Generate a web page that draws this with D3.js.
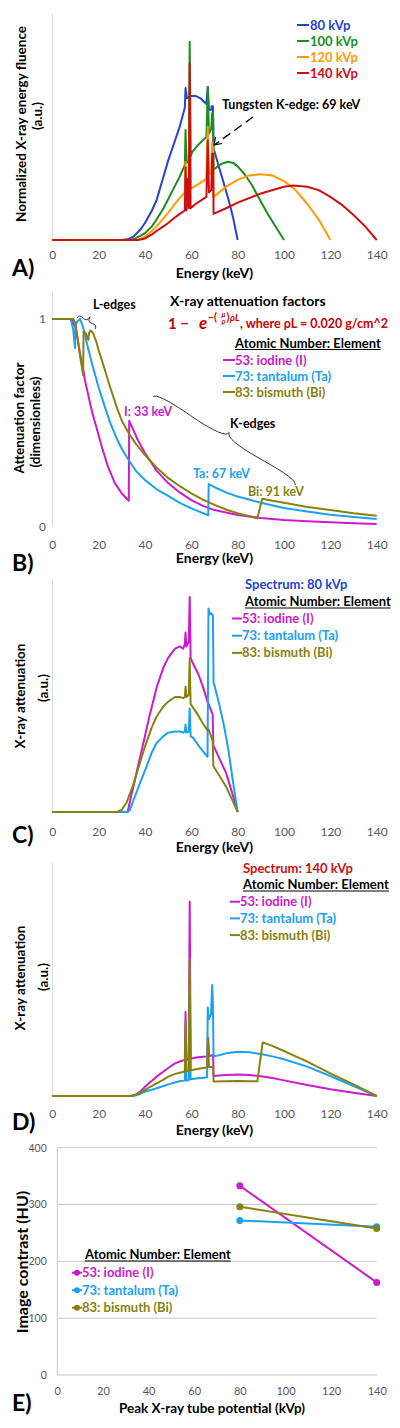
<!DOCTYPE html>
<html><head><meta charset="utf-8">
<script src="https://cdn.jsdelivr.net/npm/d3@7"></script>
<style>body{margin:0;background:#fff}svg{display:block}text{font-family:Lato,'Open Sans',sans-serif}</style>
</head><body><svg id="c" width="400" height="1428"></svg>
<script>
// ---------- DATA ----------
const energyTicks = [0, 20, 40, 60, 80, 100, 120, 140];
const attTicks = [0, 1];
const hvTicks = [0, 100, 200, 300, 400];

// Panel A: normalized X-ray energy fluence [keV, a.u.]
const spec80 = [[0,0],[30,0],[33,0.005],[35,0.015],[38,0.045],[40,0.075],[43,0.13],[45,0.176],[48,0.28],[50,0.35],[53,0.44],[55,0.5],[57.2,0.585],[57.5,0.67],[58.1,0.625],[59,0.63],[60,0.635],[62,0.635],[64,0.625],[66.5,0.6],[67.1,0.675],[67.6,0.575],[68.6,0.575],[68.8,0.59],[69.3,0.59],[69.6,0.4],[70,0.39],[72,0.32],[74,0.25],[76,0.18],[78,0.1],[80,0]];
const spec100 = [[0,0],[34,0],[36,0.008],[38,0.018],[40,0.03],[43,0.06],[45,0.09],[48,0.14],[50,0.18],[53,0.24],[55,0.28],[57.2,0.33],[57.5,0.485],[57.9,0.34],[58.9,0.35],[59.3,0.875],[59.7,0.37],[60.5,0.39],[63,0.42],[66.5,0.455],[67.1,0.675],[67.6,0.47],[68.6,0.49],[69.0,0.56],[69.4,0.56],[69.6,0.31],[72,0.33],[74,0.34],[76,0.345],[78,0.34],[80,0.325],[83,0.29],[86,0.245],[90,0.17],[93,0.115],[96,0.065],[100,0]];
const spec120 = [[0,0],[36,0],[38,0.005],[40,0.015],[43,0.04],[45,0.06],[48,0.095],[50,0.12],[53,0.16],[55,0.185],[57.2,0.21],[57.5,0.345],[57.9,0.215],[58.9,0.22],[59.3,0.6],[59.7,0.225],[62,0.24],[65,0.26],[66.5,0.27],[67.1,0.5],[67.6,0.29],[68.6,0.3],[69.0,0.43],[69.4,0.43],[69.6,0.19],[72,0.21],[75,0.235],[80,0.265],[85,0.285],[90,0.29],[95,0.285],[100,0.26],[105,0.22],[110,0.16],[115,0.09],[120,0]];
const spec140 = [[0,0],[37,0],[40,0.007],[43,0.025],[45,0.04],[48,0.06],[50,0.075],[53,0.1],[55,0.115],[57.2,0.13],[57.5,0.32],[57.9,0.13],[58.5,0.27],[58.9,0.14],[59.3,0.78],[59.7,0.14],[60.2,0.145],[62,0.16],[65,0.18],[66.5,0.19],[67.1,0.44],[67.6,0.21],[68.6,0.22],[69.0,0.38],[69.4,0.38],[69.6,0.115],[75,0.14],[80,0.165],[90,0.205],[100,0.235],[104,0.24],[110,0.235],[115,0.22],[120,0.19],[125,0.155],[130,0.11],[135,0.06],[140,0]];
const kvpLabels = ["80 kVp", "100 kVp", "120 kVp", "140 kVp"];
const kvpColors = ["#2443d0", "#1e8c1e", "#ff9a00", "#cc1010"];

// Panel B: attenuation factor 1 - exp(-(mu/rho) rho L)
const attI = [[0,1],[7.5,1],[8.5,0.99],[10,0.96],[11,0.9],[12,0.83],[13,0.78],[14,0.71],[15,0.66],[16,0.61],[17,0.56],[18,0.52],[20,0.44],[21.5,0.38],[24,0.29],[27,0.21],[30,0.16],[33,0.125],[33.2,0.51],[35,0.465],[37,0.415],[40,0.355],[45,0.27],[50,0.21],[55,0.165],[60,0.128],[65,0.1],[70,0.08],[80,0.056],[90,0.042],[100,0.032],[110,0.026],[120,0.021],[130,0.017],[140,0.013]];
const attTa = [[0,1],[8,1],[9,0.95],[9.8,0.86],[10.0,0.97],[11,0.99],[12,1.0],[13,0.97],[14,0.93],[15,0.88],[17,0.79],[20,0.67],[22,0.6],[25,0.5],[28,0.42],[30,0.375],[33,0.32],[36,0.27],[40,0.225],[45,0.18],[50,0.148],[55,0.115],[60,0.088],[64,0.07],[67.3,0.055],[67.5,0.205],[70,0.19],[75,0.165],[80,0.145],[90,0.115],[100,0.09],[110,0.073],[120,0.058],[130,0.047],[140,0.037]];
const attBi = [[0,1],[9,1],[10,0.98],[11,0.9],[12,0.82],[13.3,0.73],[13.5,0.94],[14.5,0.93],[15.6,0.9],[15.8,0.93],[16.5,0.945],[17.5,0.935],[19,0.89],[20,0.85],[22,0.78],[25,0.67],[28,0.57],[30,0.51],[33,0.45],[36,0.4],[40,0.345],[45,0.285],[50,0.235],[55,0.195],[60,0.16],[65,0.13],[70,0.105],[75,0.083],[80,0.065],[85,0.05],[88.5,0.04],[90.6,0.135],[95,0.125],[100,0.115],[110,0.095],[120,0.08],[130,0.065],[140,0.053]];
const elementLabels = ["53: iodine (I)", "73: tantalum (Ta)", "83: bismuth (Bi)"];
const elementColors = ["#cc1acc", "#1ba1f2", "#878210"];

// Panel C: X-ray attenuation, 80 kVp spectrum
const c80I = [[0,0],[32.5,0],[33.2,0.03],[34,0.07],[35,0.11],[37,0.2],[40,0.33],[42,0.42],[45,0.54],[48,0.63],[50,0.67],[53,0.71],[55,0.72],[56.5,0.71],[57.2,0.73],[57.5,0.78],[57.9,0.72],[58.9,0.74],[59.3,0.935],[59.7,0.67],[60.5,0.65],[63,0.6],[65,0.545],[67,0.48],[67.4,0.47],[68.6,0.44],[69.2,0.425],[69.5,0.29],[72,0.235],[75,0.17],[78,0.07],[80,0]];
const c80Ta = [[0,0],[32.5,0],[33.5,0.01],[35,0.05],[38,0.13],[40,0.18],[43,0.26],[45,0.3],[48,0.33],[50,0.345],[53,0.35],[55,0.35],[56.5,0.345],[57.2,0.35],[57.5,0.38],[57.9,0.345],[58.9,0.35],[59.3,0.45],[59.7,0.33],[61,0.32],[63,0.29],[65,0.265],[67,0.24],[67.4,0.885],[68,0.86],[68.5,0.865],[69.3,0.855],[69.6,0.56],[70,0.55],[72,0.47],[74,0.38],[76,0.27],[78,0.13],[80,0]];
const c80Bi = [[0,0],[28,0],[30,0.01],[32,0.04],[35,0.12],[38,0.22],[40,0.285],[43,0.37],[45,0.415],[48,0.46],[50,0.48],[53,0.5],[55,0.5],[56.5,0.495],[57.2,0.5],[57.5,0.545],[57.9,0.5],[58.9,0.51],[59.3,0.67],[59.7,0.47],[61,0.45],[63,0.42],[65,0.385],[67,0.355],[67.4,0.36],[69.2,0.31],[69.5,0.2],[72,0.16],[75,0.11],[78,0.045],[80,0]];

// Panel D: X-ray attenuation, 140 kVp spectrum
const d140I = [[0,0],[34,0],[36,0.006],[38,0.02],[40,0.04],[43,0.065],[45,0.083],[48,0.105],[50,0.12],[53,0.14],[55,0.148],[57.2,0.155],[57.5,0.36],[57.9,0.155],[58.9,0.16],[59.3,0.834],[59.7,0.16],[62,0.165],[65,0.168],[67,0.17],[67.3,0.25],[67.7,0.17],[69,0.175],[69.4,0.175],[69.6,0.086],[72,0.088],[75,0.09],[80,0.092],[85,0.09],[90,0.085],[95,0.077],[100,0.067],[110,0.047],[120,0.029],[130,0.014],[140,0]];
const d140Ta = [[0,0],[35,0],[37,0.005],[40,0.019],[43,0.027],[45,0.033],[48,0.043],[50,0.05],[53,0.058],[55,0.064],[57.2,0.066],[57.5,0.21],[57.9,0.066],[58.9,0.068],[59.3,0.45],[59.7,0.072],[62,0.075],[65,0.078],[66.8,0.08],[67.1,0.38],[67.6,0.33],[68.5,0.35],[69.0,0.476],[69.3,0.4],[69.6,0.17],[72,0.175],[75,0.183],[80,0.19],[85,0.188],[90,0.18],[95,0.17],[100,0.158],[110,0.126],[120,0.086],[130,0.043],[140,0]];
const d140Bi = [[0,0],[34,0],[36,0.006],[38,0.015],[40,0.026],[43,0.043],[45,0.054],[48,0.07],[50,0.083],[53,0.095],[55,0.1],[57.2,0.105],[57.5,0.32],[57.9,0.105],[58.9,0.11],[59.3,0.59],[59.7,0.11],[62,0.115],[65,0.12],[66.8,0.122],[67.1,0.25],[67.6,0.125],[69,0.125],[69.4,0.125],[69.6,0.062],[75,0.063],[80,0.064],[85,0.063],[88.5,0.063],[90.8,0.23],[95,0.215],[100,0.193],[105,0.17],[110,0.148],[120,0.097],[130,0.05],[140,0]];

// Panel E: image contrast (HU) vs peak tube potential (kVp)
const tubeKvp = [80, 140];
const contrastI = [333, 163];
const contrastTa = [272, 261];
const contrastBi = [296, 258];

// ---------- DRAWING ----------
const svg = d3.select('#c');
svg.append('rect').attr('width', 400).attr('height', 1428).attr('fill', '#fff');
const FONT = "Lato, 'Open Sans', sans-serif";
const SERIF = "'Liberation Serif', serif";

function txt(x, y, s, o = {}) {
  const t = svg.append('text').attr('x', x).attr('y', y).text(s)
    .attr('font-size', o.size || 13).attr('font-weight', o.weight || 'bold')
    .attr('fill', o.fill || '#000').attr('text-anchor', o.anchor || 'start')
    .attr('font-family', o.family || FONT);
  if (o.style) t.attr('font-style', o.style);
  return t;
}
function vtxt(cx, cy, s, size) {
  svg.append('text').attr('transform', `translate(${cx},${cy}) rotate(-90)`)
    .attr('text-anchor', 'middle').attr('dominant-baseline', 'central')
    .attr('font-size', size || 13.5).attr('font-weight', 'bold').attr('font-family', FONT).text(s);
}
function underlined(x, y, s, size) {
  const t = txt(x, y, s, {size: size || 13});
  const w = t.node().getComputedTextLength();
  svg.append('line').attr('x1', x).attr('x2', x + w).attr('y1', y + 2).attr('y2', y + 2)
    .attr('stroke', '#000').attr('stroke-width', 1);
}
function energyPanel(o) {
  const x = d3.scaleLinear().domain([0, 140]).range([52.3, 376.7]);
  const y = d3.scaleLinear().domain([0, 1]).range([o.yb, o.yt]);
  svg.append('line').attr('x1', 52.3).attr('x2', 52.3).attr('y1', o.axTop).attr('y2', o.yb)
    .attr('stroke', '#d9d9d9').attr('stroke-width', 1);
  const ax = svg.append('g').attr('transform', `translate(0,${o.yb})`)
    .call(d3.axisBottom(x).tickValues(energyTicks).tickSize(0).tickPadding(o.pad));
  ax.select('.domain').remove();
  ax.selectAll('text').attr('font-size', 12).attr('fill', '#595959').attr('font-family', FONT);
  txt(214.5, o.titleY, 'Energy (keV)', {size: 14, anchor: 'middle'});
  txt(12, o.labY, o.lab, {size: 23});
  return {x, y};
}
function drawSeries(p, data, color) {
  const line = d3.line().x(d => p.x(d[0])).y(d => p.y(d[1]));
  svg.append('path').datum(data).attr('d', line).attr('fill', 'none')
    .attr('stroke', color).attr('stroke-width', 2).attr('stroke-linejoin', 'round');
}
function brace(x1, y1, x2, y2, w, q) {
  const len = Math.hypot(x1 - x2, y1 - y2);
  const dx = (x1 - x2) / len, dy = (y1 - y2) / len;
  const qx1 = x1 + q * w * dy, qy1 = y1 - q * w * dx;
  const qx2 = (x1 - .25 * len * dx) + (1 - q) * w * dy, qy2 = (y1 - .25 * len * dy) - (1 - q) * w * dx;
  const tx1 = (x1 - .5 * len * dx) + w * dy, ty1 = (y1 - .5 * len * dy) - w * dx;
  const qx3 = x2 + q * w * dy, qy3 = y2 - q * w * dx;
  const qx4 = (x1 - .75 * len * dx) + (1 - q) * w * dy, qy4 = (y1 - .75 * len * dy) - (1 - q) * w * dx;
  svg.append('path').attr('d', `M${x1},${y1} Q${qx1},${qy1} ${qx2},${qy2} T${tx1},${ty1} M${x2},${y2} Q${qx3},${qy3} ${qx4},${qy4} T${tx1},${ty1}`)
    .attr('fill', 'none').attr('stroke', '#333').attr('stroke-width', 1);
}

// ----- Panel A -----
const pA = energyPanel({yb: 240, yt: 13.3, axTop: 13.3, pad: 10, titleY: 278, lab: 'A)', labY: 276});
[spec80, spec100, spec120, spec140].forEach((s, i) => drawSeries(pA, s, kvpColors[i]));
vtxt(21, 124, 'Normalized X-ray energy fluence');
vtxt(37, 116, '(a.u.)');
kvpLabels.forEach((l, i) => {
  const yy = 25 + i * 16;
  svg.append('line').attr('x1', 297).attr('x2', 309).attr('y1', yy).attr('y2', yy).attr('stroke', kvpColors[i]).attr('stroke-width', 2);
  txt(310, yy + 4.5, l, {fill: kvpColors[i]});
});
txt(222, 109, 'Tungsten K-edge: 69 keV', {size: 12.5});
svg.append('line').attr('x1', 253).attr('y1', 117).attr('x2', 215).attr('y2', 144.5)
  .attr('stroke', '#000').attr('stroke-width', 1.4).attr('stroke-dasharray', '9,5');
svg.append('path').attr('d', 'M215.5,137 L214,145 L222,143.5').attr('fill', 'none').attr('stroke', '#000').attr('stroke-width', 1.2);

// ----- Panel B -----
const pB = energyPanel({yb: 526.7, yt: 319, axTop: 291.7, pad: 13.5, titleY: 563, lab: 'B)', labY: 571});
const ayB = svg.append('g').attr('transform', 'translate(50,0)')
  .call(d3.axisLeft(pB.y).tickValues(attTicks).tickSize(0).tickPadding(4).tickFormat(d3.format('d')));
ayB.select('.domain').remove();
ayB.selectAll('text').attr('font-size', 12).attr('fill', '#595959').attr('font-family', FONT);
[attI, attTa, attBi].forEach((s, i) => drawSeries(pB, s, elementColors[i]));
vtxt(19, 418, 'Attenuation factor');
vtxt(35, 422, '(dimensionless)');
txt(170, 306, 'X-ray attenuation factors', {size: 14});
// formula
txt(168, 329, '1 − ', {size: 15, fill: '#cc0000', family: SERIF});
txt(199, 329, 'e', {size: 17, fill: '#cc0000', style: 'italic', family: SERIF});
txt(208, 321, '−(', {size: 10.5, fill: '#cc0000', family: SERIF});
txt(223.5, 317, 'μ', {size: 7, fill: '#cc0000', anchor: 'middle', style: 'italic', family: SERIF});
txt(223.5, 323.5, 'ρ', {size: 7, fill: '#cc0000', anchor: 'middle', style: 'italic', family: SERIF});
txt(226.5, 321, ')', {size: 10.5, fill: '#cc0000', family: SERIF});
txt(230, 321, 'ρL', {size: 9.5, fill: '#cc0000', style: 'italic', family: SERIF});
txt(240, 328, ', where ρL = 0.020 g/cm^2', {size: 12.5, fill: '#cc0000'});
underlined(235, 347.5, 'Atomic Number: Element');
elementLabels.forEach((l, i) => {
  const yy = 360 + i * 16;
  svg.append('line').attr('x1', 223).attr('x2', 235).attr('y1', yy).attr('y2', yy).attr('stroke', elementColors[i]).attr('stroke-width', 2);
  txt(235, yy + 4.5, l, {fill: elementColors[i]});
});
txt(93, 309, 'L-edges', {size: 12.5});
brace(95, 329, 77, 318, 8, 0.6);
txt(124, 416, 'I: 33 keV', {size: 12.5, fill: elementColors[0]});
txt(193, 478, 'Ta: 67 keV', {size: 12.5, fill: elementColors[1]});
txt(248, 496, 'Bi: 91 keV', {size: 12.5, fill: elementColors[2]});
txt(230, 428, 'K-edges', {size: 12.5});
brace(295, 485, 153, 397, 10, 0.6);

// ----- Panel C -----
const pC = energyPanel({yb: 812, yt: 582, axTop: 580, pad: 15, titleY: 852, lab: 'C)', labY: 843});
[c80I, c80Ta, c80Bi].forEach((s, i) => drawSeries(pC, s, elementColors[i]));
vtxt(20, 696, 'X-ray attenuation');
vtxt(43, 688, '(a.u.)');
txt(245, 589, 'Spectrum: 80 kVp', {fill: kvpColors[0]});
underlined(245, 606, 'Atomic Number: Element');
elementLabels.forEach((l, i) => {
  const yy = 618.5 + i * 17.2;
  svg.append('line').attr('x1', 232).attr('x2', 242).attr('y1', yy).attr('y2', yy).attr('stroke', elementColors[i]).attr('stroke-width', 2);
  txt(242, yy + 4.5, l, {fill: elementColors[i]});
});

// ----- Panel D -----
const pD = energyPanel({yb: 1096, yt: 863, axTop: 863, pad: 13.5, titleY: 1135, lab: 'D)', labY: 1130});
[d140I, d140Ta, d140Bi].forEach((s, i) => drawSeries(pD, s, elementColors[i]));
vtxt(20, 978, 'X-ray attenuation');
vtxt(43, 977, '(a.u.)');
txt(243, 872.5, 'Spectrum: 140 kVp', {fill: kvpColors[3]});
underlined(243, 889, 'Atomic Number: Element');
elementLabels.forEach((l, i) => {
  const yy = 901.7 + i * 16.7;
  svg.append('line').attr('x1', 230).attr('x2', 240).attr('y1', yy).attr('y2', yy).attr('stroke', elementColors[i]).attr('stroke-width', 2);
  txt(240, yy + 4.5, l, {fill: elementColors[i]});
});

// ----- Panel E -----
const xE = d3.scaleLinear().domain([0, 140]).range([57.3, 376.7]);
const yE = d3.scaleLinear().domain([0, 400]).range([1375, 1147.7]);
svg.append('g').selectAll('line').data(hvTicks).join('line')
  .attr('x1', 57.3).attr('x2', 376.7).attr('y1', d => yE(d)).attr('y2', d => yE(d))
  .attr('stroke', '#c8c8c8').attr('stroke-width', 1);
svg.append('line').attr('x1', 57.3).attr('x2', 57.3).attr('y1', yE(400)).attr('y2', yE(0)).attr('stroke', '#c8c8c8');
const axE = svg.append('g').attr('transform', 'translate(0,1375)')
  .call(d3.axisBottom(xE).tickValues(energyTicks).tickSize(0).tickPadding(12));
axE.select('.domain').remove();
axE.selectAll('text').attr('font-size', 11).attr('fill', '#595959').attr('font-family', FONT);
const ayE = svg.append('g').attr('transform', 'translate(57.3,0)')
  .call(d3.axisLeft(yE).tickValues(hvTicks).tickSize(0).tickPadding(10.5));
ayE.select('.domain').remove();
ayE.selectAll('text').attr('font-size', 10.5).attr('fill', '#595959').attr('font-family', FONT);
[contrastI, contrastTa, contrastBi].forEach((s, i) => {
  const pts = tubeKvp.map((k, j) => [k, s[j]]);
  svg.append('path').datum(pts).attr('d', d3.line().x(d => xE(d[0])).y(d => yE(d[1])))
    .attr('fill', 'none').attr('stroke', elementColors[i]).attr('stroke-width', 2);
  svg.append('g').selectAll('circle').data(pts).join('circle')
    .attr('cx', d => xE(d[0])).attr('cy', d => yE(d[1])).attr('r', 3.5).attr('fill', elementColors[i]);
});
vtxt(21, 1262, 'Image contrast (HU)', 16);
txt(212, 1413, 'Peak X-ray tube potential (kVp)', {size: 13.5, anchor: 'middle'});
txt(12, 1411, 'E)', {size: 23});
underlined(85, 1259, 'Atomic Number: Element');
elementLabels.forEach((l, i) => {
  const yy = 1272.7 + i * 17.5;
  svg.append('line').attr('x1', 72).attr('x2', 82).attr('y1', yy).attr('y2', yy).attr('stroke', elementColors[i]).attr('stroke-width', 2);
  svg.append('circle').attr('cx', 77).attr('cy', yy).attr('r', 3).attr('fill', elementColors[i]);
  txt(82, yy + 4.5, l, {fill: elementColors[i]});
});
</script></body></html>
